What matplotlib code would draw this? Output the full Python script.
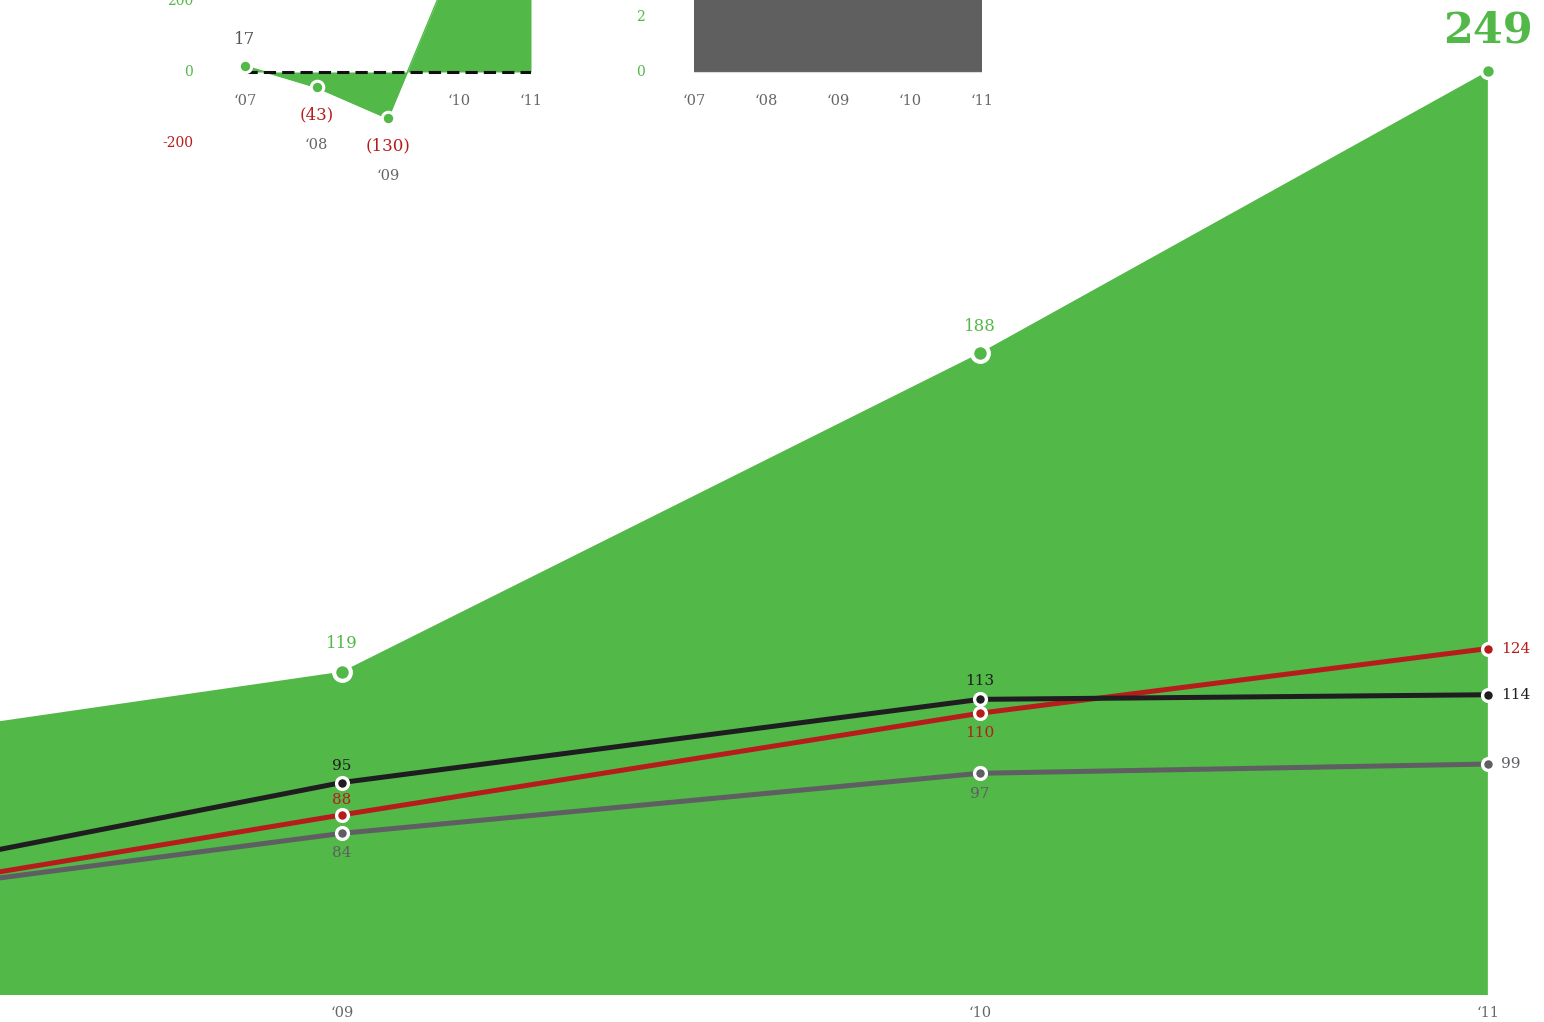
import numpy as np
import matplotlib
matplotlib.use("Agg")
import matplotlib.pyplot as plt

plt.rcParams['font.family'] = ['DejaVu Serif']

GREEN = "#52b848"
RED = "#b71c1c"
BLACK = "#1f1d20"
GRAY = "#5f5e63"
BAR_GRAY = "#5f5f60"
TICK = "#666666"

# main chart data
main_years = [2008, 2009, 2010, 2011]
main_labels = ["‘08", "‘09", "‘10", "‘11"]
green_total = [99, 119, 188, 249]
black_series = [68, 95, 113, 114]
red_series = [65, 88, 110, 124]
gray_series = [66, 84, 97, 99]

# top insets
inset_labels = ["‘07", "‘08", "‘09", "‘10", "‘11"]
net_income = [17, -43, -130, 350, 480]
dividend = [3.0, 3.0, 3.0, 3.0, 3.0]

W, H = 1544, 1022
fig = plt.figure(figsize=(W / 100, H / 100), dpi=100)

# ---------------- main chart ----------------
ax = fig.add_axes([0, (H - 995) / H, 1, 995 / H])

LAST_STEP = 0.796  # last year interval is drawn shorter


def fwd(y):
    y = np.asarray(y, float)
    return np.where(y <= 2010, y - 2008, 2 + (y - 2010) * LAST_STEP)


def inv(p):
    p = np.asarray(p, float)
    return np.where(p <= 2, p + 2008, 2010 + (p - 2) / LAST_STEP)


ax.set_xscale('function', functions=(fwd, inv))
ax.set_xlim(float(inv(0.464)), float(inv(2.884)))
ybot, ytop = 49, 264.4
ax.set_ylim(ybot, ytop)

ax.fill_between(main_years, green_total, ybot, color=GREEN, lw=0, zorder=1)

for series, col in [(gray_series, GRAY), (red_series, RED), (black_series, BLACK)]:
    ax.plot(main_years, series, color=col, lw=3.6, zorder=3, solid_capstyle='butt')
    ax.plot(main_years, series, 'o', ms=8.5, mfc=col, mec='white', mew=2.4, zorder=4)

ax.plot(main_years[:3], green_total[:3], 'o', ms=12, mfc=GREEN, mec='white', mew=3, zorder=5)
ax.plot(main_years[3:], green_total[3:], 'o', ms=10, mfc=GREEN, mec='white', mew=2.5, zorder=5)


def lab(x, y, txt, col, dy, dx=0, size=11, ha='center', weight='normal'):
    ax.annotate(txt, (x, y), xytext=(dx, dy), textcoords='offset points',
                ha=ha, va='center', color=col, fontsize=size, fontweight=weight,
                zorder=6, annotation_clip=False)


# green labels
lab(2009, 119, "119", GREEN, 20, size=12)
lab(2010, 188, "188", GREEN, 19, size=12)
lab(2011, 249, "249", GREEN, 29.5, size=31, weight='bold')

# '09
lab(2009, 95, "95", BLACK, 12)
lab(2009, 88, "88", RED, 11)
lab(2009, 84, "84", GRAY, -14)
# '10
lab(2010, 113, "113", BLACK, 13.5)
lab(2010, 110, "110", RED, -14.4)
lab(2010, 97, "97", GRAY, -15)
# '11
lab(2011, 124, "124", RED, 0, dx=9.5, ha='left')
lab(2011, 114, "114", BLACK, 0, dx=9.5, ha='left')
lab(2011, 99, "99", GRAY, 0, dx=9.5, ha='left')

ax.set_xticks(main_years[1:])
ax.set_xticklabels(main_labels[1:])
ax.tick_params(axis='x', length=0, pad=8, labelsize=10.5, labelcolor=TICK)
ax.set_yticks([])
for s in ax.spines.values():
    s.set_visible(False)
ax.patch.set_visible(False)

# ---------------- left inset: net income ----------------
ax1 = fig.add_axes([245 / W, (H - 160) / H, 286 / W, 160 / H])
xi = np.arange(len(inset_labels))
ax1.set_xlim(0, 4)
ax1.set_ylim(-246.2, 201.4)
ax1.fill_between(xi, net_income, 0, color=GREEN, lw=0, zorder=1)
ax1.plot(xi, net_income, color=GREEN, lw=1, zorder=1)
ax1.axhline(0, color='#111111', lw=2.2, dashes=(4, 2), zorder=2)
ax1.plot(xi, net_income, 'o', ms=9, mfc=GREEN, mec='white', mew=2.2, zorder=3, clip_on=False)

for x, v, t in zip(xi, net_income, inset_labels):
    if v < 0:
        ax1.annotate(f"({-v})", (x, v), xytext=(0, -20), textcoords='offset points',
                     ha='center', va='center', color=RED, fontsize=12, annotation_clip=False)
        ax1.annotate(t, (x, v), xytext=(0, -41.4), textcoords='offset points',
                     ha='center', va='center', color=TICK, fontsize=10.5, annotation_clip=False)
    else:
        if v < 200:
            ax1.annotate(f"{v}", (x, v), xytext=(0, 18.7), textcoords='offset points',
                         ha='center', va='center', color="#555555", fontsize=12,
                         annotation_clip=False)
        ax1.annotate(t, (x, 0), xytext=(0, -21), textcoords='offset points',
                     ha='center', va='center', color=TICK, fontsize=10.5, annotation_clip=False)

for v, col in [(200, GREEN), (0, GREEN), (-200, RED)]:
    ax1.annotate(f"{v}", (0, v), xytext=(-37.4, 0), textcoords='offset points',
                 ha='right', va='center', color=col, fontsize=10, annotation_clip=False)
ax1.axis('off')

# ---------------- right inset: dividend ----------------
ax2 = fig.add_axes([694 / W, (H - 160) / H, 288 / W, 160 / H])
ax2.set_xlim(0, 4)
ax2.set_ylim(-88 / 27.5, 72 / 27.5)
ax2.fill_between(xi, dividend, 0, color=BAR_GRAY, lw=0)
ax2.axhline(0, color='#dddddd', lw=0.8)
for x, t in zip(xi, inset_labels):
    ax2.annotate(t, (x, 0), xytext=(0, -21), textcoords='offset points',
                 ha='center', va='center', color=TICK, fontsize=10.5, annotation_clip=False)
for v in [0, 2]:
    ax2.annotate(f"{v}", (0, v), xytext=(-35.3, 0), textcoords='offset points',
                 ha='right', va='center', color=GREEN, fontsize=10, annotation_clip=False)
ax2.axis('off')

fig.savefig("out.png", dpi=100)
